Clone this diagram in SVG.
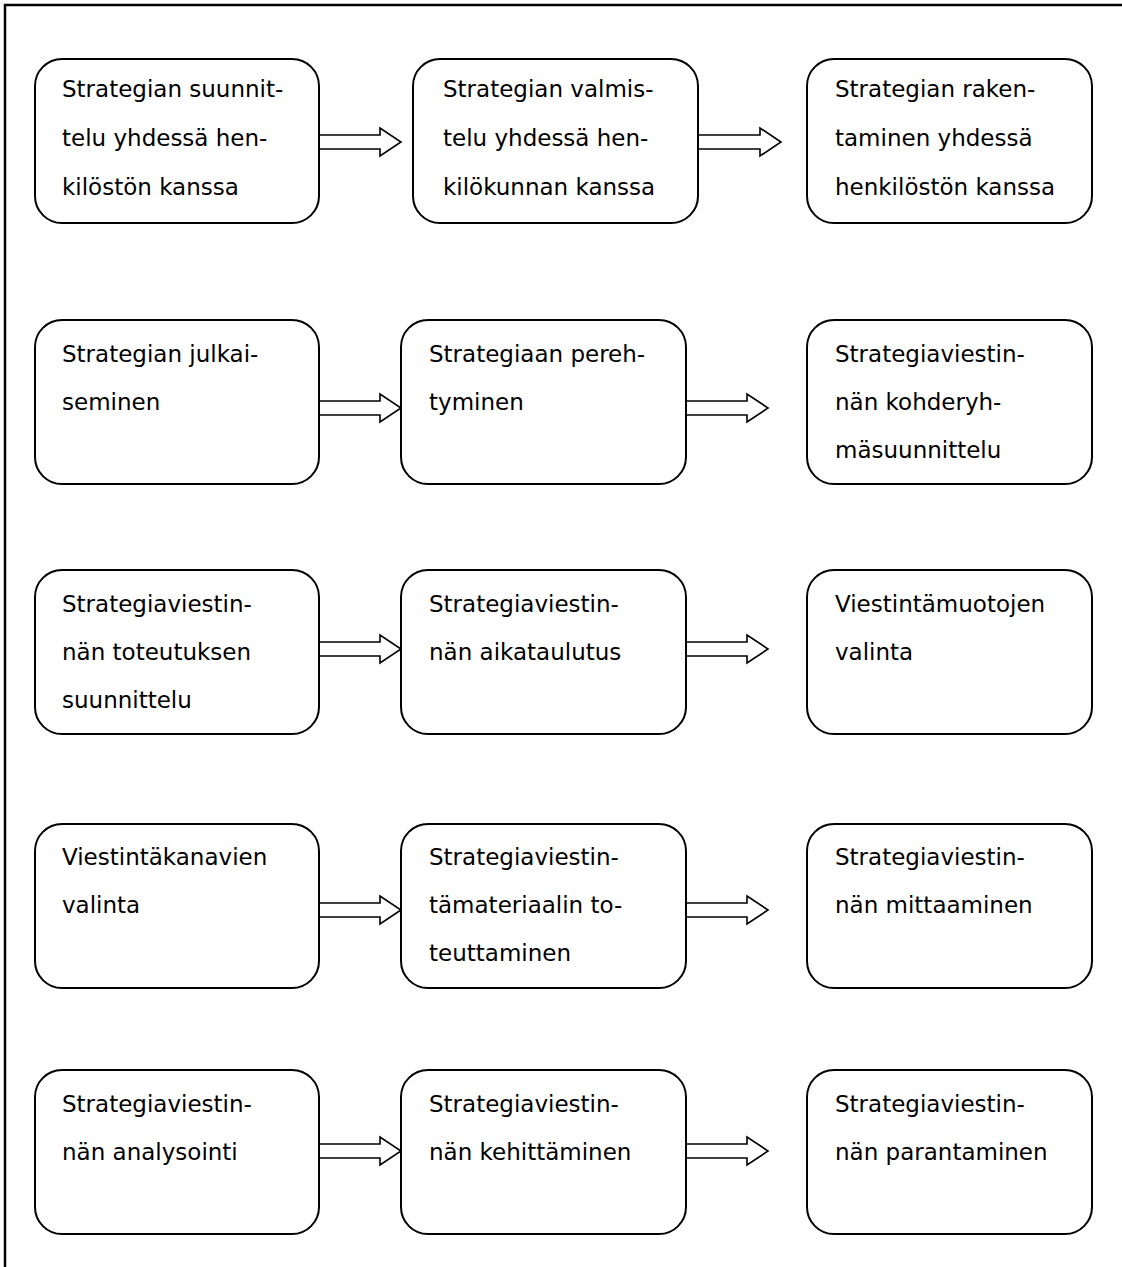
<svg xmlns="http://www.w3.org/2000/svg" width="1122" height="1267" viewBox="0 0 1122 1267">
<style>
.box{fill:#fff;stroke:#000;stroke-width:2}
.arr{fill:#fff;stroke:#000;stroke-width:1.6;stroke-linejoin:miter}
text{font-family:"DejaVu Sans",Verdana,sans-serif;font-size:23px;fill:#000}
</style>
<rect x="5" y="5" width="1140" height="1290" fill="#fff" stroke="#000" stroke-width="2.5"/>
<g id="connectors">
<polygon class="arr" points="319,135 380,135 380,128 401,142 380,156 380,149 319,149"/>
<polygon class="arr" points="698,135 760,135 760,128 781,142 760,156 760,149 698,149"/>
<polygon class="arr" points="319,401 380,401 380,394 401,408 380,422 380,415 319,415"/>
<polygon class="arr" points="686,401 747,401 747,394 768,408 747,422 747,415 686,415"/>
<polygon class="arr" points="319,642 380,642 380,635 401,649 380,663 380,656 319,656"/>
<polygon class="arr" points="686,642 747,642 747,635 768,649 747,663 747,656 686,656"/>
<polygon class="arr" points="319,903 380,903 380,896 401,910 380,924 380,917 319,917"/>
<polygon class="arr" points="686,903 747,903 747,896 768,910 747,924 747,917 686,917"/>
<polygon class="arr" points="319,1144 380,1144 380,1137 401,1151 380,1165 380,1158 319,1158"/>
<polygon class="arr" points="686,1144 747,1144 747,1137 768,1151 747,1165 747,1158 686,1158"/>
</g>
<g id="n1"><rect class="box" x="35" y="59" width="284" height="164" rx="27"/><text x="62" y="97">Strategian suunnit-</text><text x="62" y="146">telu yhdessä hen-</text><text x="62" y="195">kilöstön kanssa</text></g>
<g id="n2"><rect class="box" x="413" y="59" width="285" height="164" rx="27"/><text x="443" y="97">Strategian valmis-</text><text x="443" y="146">telu yhdessä hen-</text><text x="443" y="195">kilökunnan kanssa</text></g>
<g id="n3"><rect class="box" x="807" y="59" width="285" height="164" rx="27"/><text x="835" y="97">Strategian raken-</text><text x="835" y="146">taminen yhdessä</text><text x="835" y="195">henkilöstön kanssa</text></g>
<g id="n4"><rect class="box" x="35" y="320" width="284" height="164" rx="27"/><text x="62" y="362">Strategian julkai-</text><text x="62" y="410">seminen</text></g>
<g id="n5"><rect class="box" x="401" y="320" width="285" height="164" rx="27"/><text x="429" y="362">Strategiaan pereh-</text><text x="429" y="410">tyminen</text></g>
<g id="n6"><rect class="box" x="807" y="320" width="285" height="164" rx="27"/><text x="835" y="362">Strategiaviestin-</text><text x="835" y="410">nän kohderyh-</text><text x="835" y="458">mäsuunnittelu</text></g>
<g id="n7"><rect class="box" x="35" y="570" width="284" height="164" rx="27"/><text x="62" y="612">Strategiaviestin-</text><text x="62" y="660">nän toteutuksen</text><text x="62" y="708">suunnittelu</text></g>
<g id="n8"><rect class="box" x="401" y="570" width="285" height="164" rx="27"/><text x="429" y="612">Strategiaviestin-</text><text x="429" y="660">nän aikataulutus</text></g>
<g id="n9"><rect class="box" x="807" y="570" width="285" height="164" rx="27"/><text x="835" y="612">Viestintämuotojen</text><text x="835" y="660">valinta</text></g>
<g id="n10"><rect class="box" x="35" y="824" width="284" height="164" rx="27"/><text x="62" y="865">Viestintäkanavien</text><text x="62" y="913">valinta</text></g>
<g id="n11"><rect class="box" x="401" y="824" width="285" height="164" rx="27"/><text x="429" y="865">Strategiaviestin-</text><text x="429" y="913">tämateriaalin to-</text><text x="429" y="961">teuttaminen</text></g>
<g id="n12"><rect class="box" x="807" y="824" width="285" height="164" rx="27"/><text x="835" y="865">Strategiaviestin-</text><text x="835" y="913">nän mittaaminen</text></g>
<g id="n13"><rect class="box" x="35" y="1070" width="284" height="164" rx="27"/><text x="62" y="1112">Strategiaviestin-</text><text x="62" y="1160">nän analysointi</text></g>
<g id="n14"><rect class="box" x="401" y="1070" width="285" height="164" rx="27"/><text x="429" y="1112">Strategiaviestin-</text><text x="429" y="1160">nän kehittäminen</text></g>
<g id="n15"><rect class="box" x="807" y="1070" width="285" height="164" rx="27"/><text x="835" y="1112">Strategiaviestin-</text><text x="835" y="1160">nän parantaminen</text></g>
</svg>
